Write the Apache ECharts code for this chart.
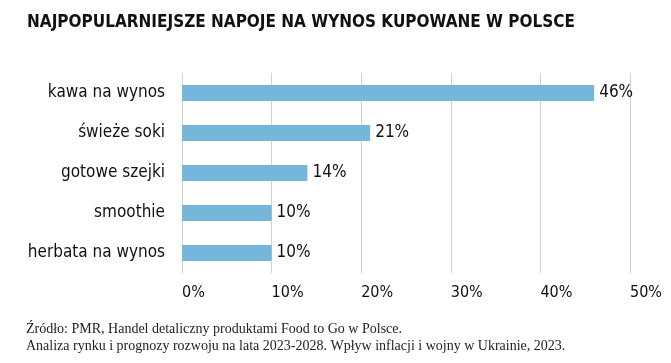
<!DOCTYPE html>
<html><head><meta charset="utf-8">
<script src="https://cdn.jsdelivr.net/npm/echarts@6/dist/echarts.min.js"></script>
<style>html,body{margin:0;padding:0;background:#fff}#c{width:671px;height:363px}</style>
</head><body><div id="c"></div>
<script>
var categories = ['kawa na wynos', 'świeże soki', 'gotowe szejki', 'smoothie', 'herbata na wynos'];
var values = [46, 21, 14, 10, 10];
var xTicks = [0, 10, 20, 30, 40, 50];
var titleText = 'NAJPOPULARNIEJSZE NAPOJE NA WYNOS KUPOWANE W POLSCE';
var sourceLines = ['Źródło: PMR, Handel detaliczny produktami Food to Go w Polsce.',
  'Analiza rynku i prognozy rozwoju na lata 2023-2028. Wpływ inflacji i wojny w Ukrainie, 2023.'];

var cf = '"DejaVu Sans Condensed", "DejaVu Sans", sans-serif';
var chart = echarts.init(document.getElementById('c'), null, {renderer: 'canvas'});
chart.setOption({
  animation: false,
  title: {
    text: titleText, left: 22, top: 9,
    textStyle: {fontFamily: cf, fontWeight: 'bold', fontSize: 17, color: '#111'}
  },
  graphic: [{
    type: 'text', left: 26, top: 321,
    style: {text: sourceLines.join('\n'), font: '14px "Liberation Serif", serif', fill: '#222', lineHeight: 17}
  }],
  grid: {left: 182, right: 41, top: 73, bottom: 90, containLabel: false},
  xAxis: {
    type: 'value', min: xTicks[0], max: xTicks[xTicks.length - 1], interval: 10,
    axisLine: {show: false}, axisTick: {show: false},
    splitLine: {lineStyle: {color: '#d3d3d3', width: 1}},
    axisLabel: {formatter: '{value}%', align: 'left', margin: 12, fontFamily: cf, fontSize: 16, color: '#111'}
  },
  yAxis: {
    type: 'category', data: categories, inverse: true,
    axisLine: {show: false}, axisTick: {show: false},
    axisLabel: {margin: 17, fontFamily: cf, fontSize: 17, color: '#111'}
  },
  series: [{
    type: 'bar', data: values, barWidth: 16,
    itemStyle: {color: '#74b7da'},
    label: {show: true, position: 'right', distance: 5, formatter: '{c}%', fontFamily: cf, fontSize: 17, color: '#111'}
  }]
});
</script></body></html>
